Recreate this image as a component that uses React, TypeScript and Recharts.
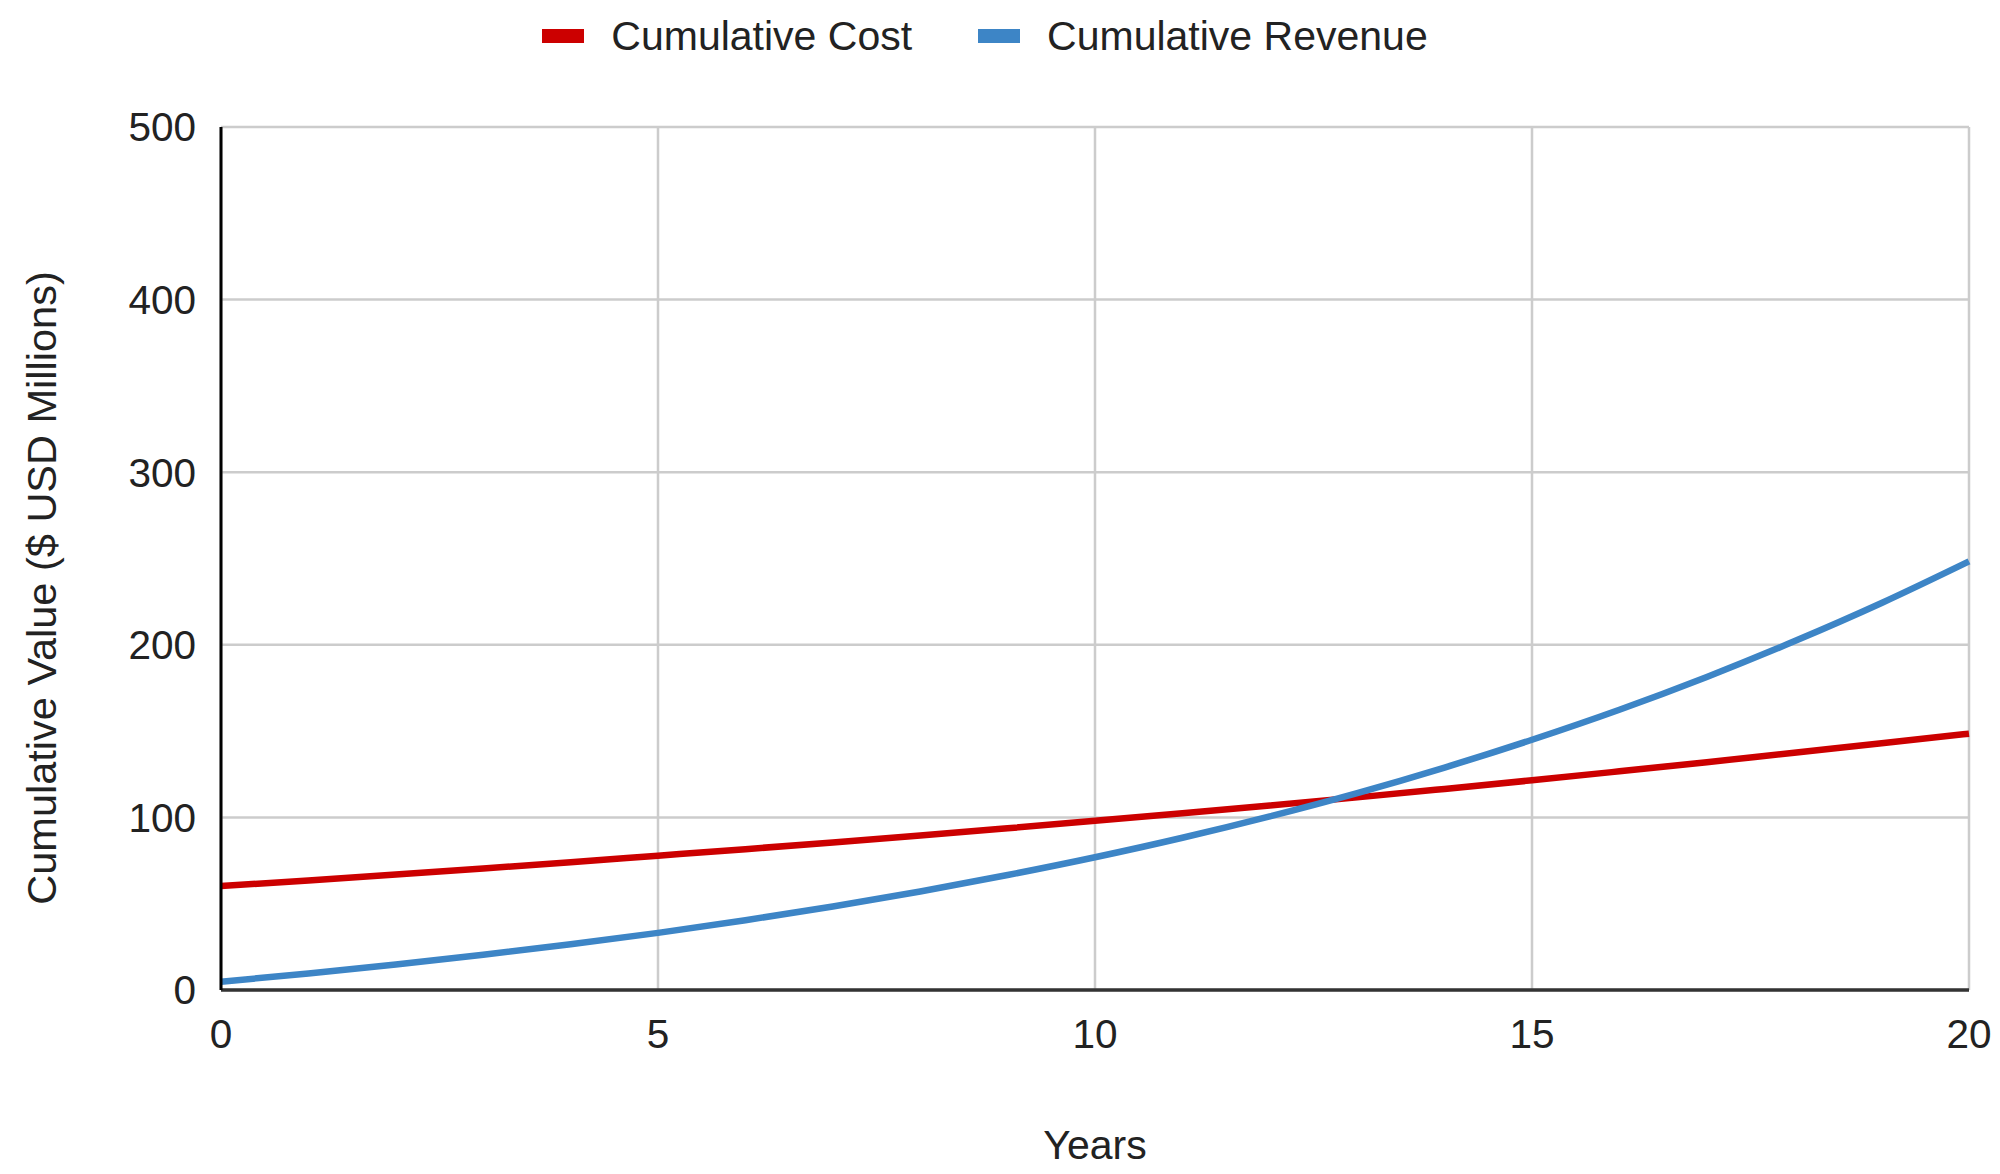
import React from "react";
import { LineChart, Line, XAxis, YAxis, CartesianGrid, Legend, Label } from "recharts";

const years = [0, 1, 2, 3, 4, 5, 6, 7, 8, 9, 10, 11, 12, 13, 14, 15, 16, 17, 18, 19, 20];
const cumulativeCost = [60.2, 63.5, 66.9, 70.4, 74.0, 77.8, 81.6, 85.5, 89.5, 93.7, 98.0, 102.4, 106.9, 111.6, 116.5, 121.5, 126.7, 132.0, 137.5, 142.9, 148.5];
const cumulativeRevenue = [4.8, 9.6, 14.8, 20.4, 26.5, 33.1, 40.4, 48.4, 57.1, 66.6, 76.9, 88.2, 100.6, 114.1, 128.9, 145.0, 162.4, 181.4, 202.0, 224.2, 248.3];
const xTicks = [0, 5, 10, 15, 20];
const yTicks = [0, 100, 200, 300, 400, 500];

const seriesInfo = [
  { key: "cost", name: "Cumulative Cost", color: "#cc0000" },
  { key: "revenue", name: "Cumulative Revenue", color: "#3d85c6" },
];

const data = years.map((y, i) => ({ year: y, cost: cumulativeCost[i], revenue: cumulativeRevenue[i] }));

const FONT = "'Liberation Sans', Arial, sans-serif";

const LegendContent = () => (
  <div
    style={{
      height: 127,
      width: 2000,
      display: "flex",
      justifyContent: "center",
      alignItems: "flex-start",
      paddingRight: 30,
      boxSizing: "border-box",
      fontFamily: FONT,
      fontSize: 41,
      color: "#222",
    }}
  >
    {seriesInfo.map((s, i) => (
      <div
        key={s.key}
        style={{ display: "flex", alignItems: "center", marginLeft: i === 0 ? 0 : 66, marginTop: 13, height: 46 }}
      >
        <div style={{ width: 42, height: 14, background: s.color, marginRight: 27 }} />
        <span style={{ lineHeight: "46px" }}>{s.name}</span>
      </div>
    ))}
  </div>
);

const YLabel = (props: any) => {
  const vb = props.viewBox || { x: 0, y: 0, width: 0, height: 0 };
  const x = vb.x + 56;
  const y = 588;
  return (
    <text
      x={x}
      y={y}
      transform={`rotate(-90, ${x}, ${y})`}
      textAnchor="middle"
      fontFamily={FONT}
      fontSize={41.5}
      fill="#222"
    >
      Cumulative Value ($ USD Millions)
    </text>
  );
};

const XLabel = (props: any) => {
  const vb = props.viewBox || { x: 0, y: 0, width: 0, height: 0 };
  return (
    <text
      x={vb.x + vb.width / 2}
      y={vb.y + 169}
      textAnchor="middle"
      fontFamily={FONT}
      fontSize={41}
      fill="#222"
    >
      Years
    </text>
  );
};

export default function App() {
  return (
    <div style={{ position: "absolute", left: 0, top: 0, background: "#fff" }}>
      <LineChart width={2000} height={1174} data={data} margin={{ top: 0, right: 31, bottom: 0, left: 0 }}>
        <Legend
          verticalAlign="top"
          content={<LegendContent />}
          wrapperStyle={{ top: 0, left: 0, width: 2000, height: 127 }}
        />
        <CartesianGrid stroke="#cccccc" strokeWidth={2.5} />
        <XAxis
          dataKey="year"
          type="number"
          domain={[0, 20]}
          ticks={xTicks}
          height={184}
          tickSize={0}
          tickMargin={29}
          tickLine={false}
          axisLine={{ stroke: "#333333", strokeWidth: 3.5 }}
          tick={{ fontFamily: FONT, fontSize: 40.5, fill: "#222" }}
        >
          <Label content={<XLabel />} />
        </XAxis>
        <YAxis
          type="number"
          domain={[0, 500]}
          ticks={yTicks}
          width={221}
          tickSize={0}
          tickMargin={25}
          tickLine={false}
          axisLine={{ stroke: "#000000", strokeWidth: 3 }}
          tick={{ fontFamily: FONT, fontSize: 40.5, fill: "#222" }}
        >
          <Label content={<YLabel />} />
        </YAxis>
        {seriesInfo.map((s) => (
          <Line
            key={s.key}
            type="monotone"
            dataKey={s.key}
            name={s.name}
            stroke={s.color}
            strokeWidth={6.5}
            dot={false}
            activeDot={false}
            isAnimationActive={false}
          />
        ))}
      </LineChart>
    </div>
  );
}
